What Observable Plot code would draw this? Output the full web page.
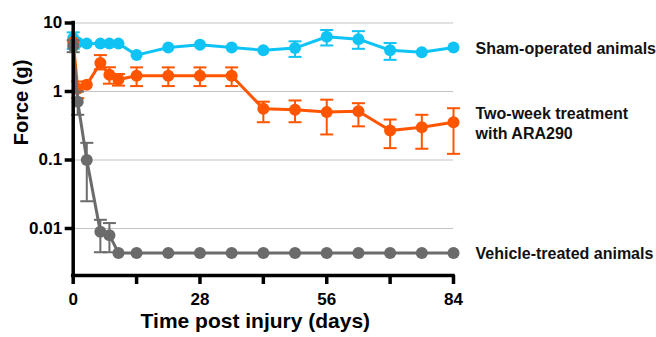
<!DOCTYPE html>
<html>
<head>
<meta charset="utf-8">
<script src="https://cdn.jsdelivr.net/npm/d3@7"></script>
<script src="https://cdn.jsdelivr.net/npm/@observablehq/plot@0.6"></script>
<style>
  html, body { margin: 0; padding: 0; background: #fff; }
  #chart svg { display: block; font-family: "Liberation Sans", Arial, Helvetica, sans-serif; }
</style>
</head>
<body>
<div id="chart"></div>
<script>
// ---- data ----
const days = [0, 1, 3, 6, 8, 10, 14, 21, 28, 35, 42, 49, 56, 63, 70, 77, 84];

const shamForce = [6.0, 5.2, 5.0, 5.0, 5.0, 5.0, 3.4, 4.4, 4.8, 4.4, 4.0, 4.3, 6.3, 5.8, 4.0, 3.75, 4.4];
const shamLow   = [4.2, null, null, null, null, null, null, null, null, null, null, 3.2, 4.7, 4.2, 2.9, null, null];
const shamHigh  = [7.3, null, null, null, null, null, null, null, null, null, null, 5.4, 7.9, 7.6, 5.1, null, null];

const araForce = [5.3, 1.1, 1.25, 2.6, 1.75, 1.5, 1.7, 1.7, 1.7, 1.7, 0.56, 0.54, 0.50, 0.515, 0.27, 0.30, 0.356];
const araLow   = [null, 0.8, null, 2.1, 1.3, 1.22, 1.2, 1.2, 1.2, 1.2, 0.356, 0.356, 0.236, 0.31, 0.149, 0.146, 0.123];
const araHigh  = [null, 1.4, null, 3.4, 2.26, 1.8, 2.25, 2.25, 2.25, 2.25, 0.71, 0.74, 0.76, 0.675, 0.39, 0.457, 0.57];

const vehForce = [4.6, 0.71, 0.10, 0.009, 0.008, 0.0044, 0.0044, 0.0044, 0.0044, 0.0044, 0.0044, 0.0044, 0.0044, 0.0044, 0.0044, 0.0044, 0.0044];
const vehLow   = [3.75, 0.457, 0.025, 0.0045, 0.0045, null, null, null, null, null, null, null, null, null, null, null, null];
const vehHigh  = [5.6, 1.0, 0.178, 0.0134, 0.012, null, null, null, null, null, null, null, null, null, null, null, null];

const seriesNames = ["Sham-operated animals", "Two-week treatment\nwith ARA290", "Vehicle-treated animals"];
const seriesColors = ["#0FC4F5", "#FF5500", "#6B6B6B"];

const yTicks = [10, 1, 0.1, 0.01];
const yTickLabels = ["10", "1", "0.1", "0.01"];
const xTicks = [0, 14, 28, 42, 56, 70, 84];
const xTickLabels = ["0", "", "28", "", "56", "", "84"];
const yDomain = [0.00206, 10];
const xDomain = [0, 84];

const xTitle = "Time post injury (days)";
const yTitle = "Force (g)";

// ---- build table ----
function rows(name, color, f, lo, hi) {
  return days.map((d, i) => ({series: name, color, day: d, force: f[i], lo: lo[i], hi: hi[i]}));
}
const groups = [
  rows(seriesNames[0], seriesColors[0], shamForce, shamLow, shamHigh),
  rows(seriesNames[1], seriesColors[1], araForce, araLow, araHigh),
  rows(seriesNames[2], seriesColors[2], vehForce, vehLow, vehHigh)
];

const capSymbol = {
  draw(context, size) {
    const r = Math.sqrt(size / Math.PI);
    context.moveTo(-r, 0);
    context.lineTo(r, 0);
  }
};

const marks = [
  Plot.ruleY(yTicks, {x1: xDomain[0], x2: xDomain[1], stroke: "#c4c4c4", strokeWidth: 1.2})
];

for (const g of groups) {
  const color = g[0].color;
  const eb = g.filter(d => d.lo != null && d.hi != null);
  marks.push(
    Plot.ruleX(eb, {x: "day", y1: "lo", y2: "hi", stroke: color, strokeWidth: 2}),
    Plot.dot(eb, {x: "day", y: "lo", symbol: capSymbol, r: 6.5, stroke: color, strokeWidth: 2, fill: "none"}),
    Plot.dot(eb, {x: "day", y: "hi", symbol: capSymbol, r: 6.5, stroke: color, strokeWidth: 2, fill: "none"}),
    Plot.line(g, {x: "day", y: "force", stroke: color, strokeWidth: 3}),
    Plot.dot(g, {x: "day", y: "force", fill: color, r: 6, stroke: "none"}),
    Plot.text(g.slice(-1), {x: "day", y: "force", text: "series", textAnchor: "start", lineAnchor: "middle",
      dx: 22, fontSize: 16, fontWeight: "bold", fill: "#111", lineHeight: 1.25})
  );
}

marks.push(
  Plot.ruleX([0], {y1: yDomain[0], y2: yDomain[1], stroke: "#000", strokeWidth: 3.5, strokeLinecap: "square"}),
  Plot.ruleY([yDomain[0]], {x1: xDomain[0], x2: xDomain[1], stroke: "#000", strokeWidth: 3.5, strokeLinecap: "square"}),
  Plot.axisY({ticks: yTicks, tickFormat: d => yTickLabels[yTicks.indexOf(d)], tickSize: 8, tickPadding: 3,
    strokeWidth: 3.5, stroke: "#000", fontSize: 17, fontWeight: "bold", fill: "#000", label: null}),
  Plot.axisX({ticks: xTicks, tickFormat: d => xTickLabels[xTicks.indexOf(d)], tickSize: 9, tickPadding: 8,
    strokeWidth: 3.5, stroke: "#000", fontSize: 17, fontWeight: "bold", fill: "#000", label: null}),
  Plot.text([xTitle], {frameAnchor: "bottom", lineAnchor: "bottom", dy: 52, dx: -8, fontSize: 21, fontWeight: "bold", fill: "#000"}),
  Plot.text([yTitle], {frameAnchor: "left", dx: -52, dy: -4, rotate: -90, fontSize: 20, fontWeight: "bold", fill: "#000"})
);

const chart = Plot.plot({
  width: 656,
  height: 337,
  marginLeft: 72.7,
  marginRight: 203,
  marginTop: 22.5,
  marginBottom: 62,
  style: {background: "#fff", overflow: "visible"},
  x: {domain: xDomain, axis: null},
  y: {type: "log", domain: yDomain, axis: null},
  marks
});
document.getElementById("chart").appendChild(chart);
</script>
</body>
</html>
